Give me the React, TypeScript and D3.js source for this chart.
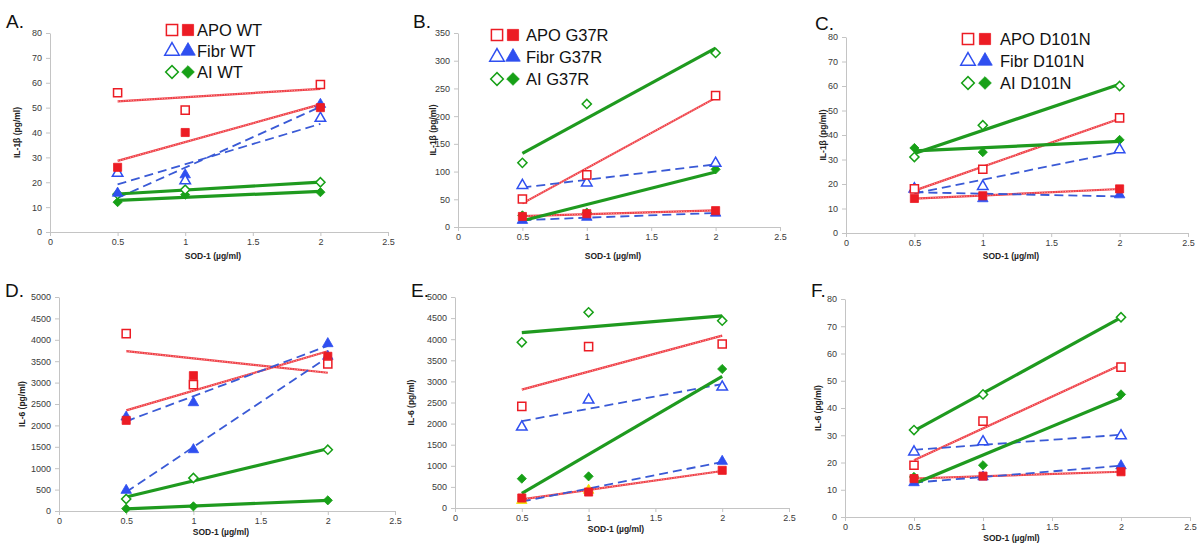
import { useEffect, useRef } from 'react'
import * as d3 from 'd3'

// SOD-1 doses on the x axis
const doses = [0.5, 1, 2]
const xTicks = [0, 0.5, 1, 1.5, 2, 2.5]
const panelLetters = ['A.', 'B.', 'C.', 'D.', 'E.', 'F.']
const variants = ['WT', 'G37R', 'D101N']
const groups = ['APO', 'Fibr', 'AI']
const yMaxes = [80, 350, 80, 5000, 5000, 80]
const ySteps = [10, 50, 10, 500, 500, 10]
const yTitles = ['IL-1β (pg/ml)', 'IL-1β (pg/ml)', 'IL-1β (pg/ml)', 'IL-6 (pg/ml)', 'IL-6 (pg/ml)', 'IL-6 (pg/ml)']
const xTitle = 'SOD-1 (µg/ml)'

// values per panel (A..F) at 0.5, 1 and 2 µg/ml
const apoOpen = [[56, 49, 59.3], [50.6, 94, 237], [18, 26, 47], [4143, 2952, 3435], [2409, 3823, 3886], [19, 35.2, 55]]
const apoFilled = [[26, 40, 50], [19, 24, 29.5], [14.1, 15.2, 18], [2118, 3162, 3614], [237, 379, 893], [14.1, 15, 16.6]]
const fibrOpen = [[23.6, 20.6, 45.7], [75, 79.5, 115], [18, 19, 34], [2196, 2531, 3910], [1919, 2559, 2867], [23.9, 27.6, 29.8]]
const fibrFilled = [[15.6, 23, 51.3], [12, 17.5, 25], [18, 14, 15.6], [483, 1433, 3614], [180, 420, 1106], [12.6, 14.7, 18.8]]
const aiOpen = [[15.2, 17, 20], [115.7, 222, 314], [31, 44, 60], [280, 771, 1433], [3926, 4637, 4439], [31.9, 45, 73.3]]
const aiFilled = [[12, 15, 16], [21, 26, 104], [34.7, 33, 38], [55, 109, 249], [695, 750, 3294], [14.7, 19, 45]]

const RED = '#ec1c24'
const BLUE = '#2f4ff0'
const BLUE_LINE = '#3a5ad6'
const GREEN = '#17a017'
const GREEN_LINE = '#1f9a1f'
const YELLOW = '#f2de00'

// plot boxes in page pixels
const boxes = [
  { left: 50, right: 388, top: 33, bottom: 232, yTitleX: 20, xTitleY: 259, labelX: 6, labelY: 28 },
  { left: 458, right: 780, top: 33, bottom: 227, yTitleX: 436, xTitleY: 259, labelX: 413, labelY: 28 },
  { left: 846, right: 1188, top: 37, bottom: 233, yTitleX: 826, xTitleY: 259, labelX: 815, labelY: 30 },
  { left: 59, right: 395, top: 297, bottom: 511, yTitleX: 25, xTitleY: 535, labelX: 5, labelY: 297 },
  { left: 455, right: 789, top: 297, bottom: 508, yTitleX: 414, xTitleY: 532, labelX: 411, labelY: 297 },
  { left: 845, right: 1190, top: 299, bottom: 517, yTitleX: 821, xTitleY: 541, labelX: 811, labelY: 297 },
]
const legends = [
  { openX: 172, filledX: 188, textX: 197, y: 30, gap: 21 },
  { openX: 497, filledX: 513, textX: 526, y: 35, gap: 22 },
  { openX: 968, filledX: 985, textX: 1000, y: 39, gap: 22 },
]

function fit(ys: number[]) {
  const mx = d3.mean(doses) as number
  const my = d3.mean(ys) as number
  let sxy = 0
  let sxx = 0
  doses.forEach((x, i) => {
    sxy += (x - mx) * (ys[i] - my)
    sxx += (x - mx) * (x - mx)
  })
  const b = sxy / sxx
  return doses.filter((d, i) => i === 0 || i === doses.length - 1).map(x => ({ x, y: my + b * (x - mx) }))
}

const shapes: Record<string, d3.SymbolType> = {
  APO: d3.symbolSquare,
  Fibr: d3.symbolTriangle,
  AI: d3.symbolSquare,
}
const sizes: Record<string, number> = { APO: 66, Fibr: 48, AI: 42 }
const colors: Record<string, string> = { APO: RED, Fibr: BLUE, AI: GREEN }

export default function App() {
  const ref = useRef<SVGSVGElement | null>(null)

  useEffect(() => {
    const svg = d3.select(ref.current)
    svg.selectAll('*').remove()
    svg.append('rect').attr('width', 1200).attr('height', 543).attr('fill', '#fff')

    const drawMarker = (g: any, group: string, open: boolean, cx: number, cy: number, scale = 1, color?: string) => {
      const c = color || colors[group]
      const path = d3.symbol().type(shapes[group]).size(sizes[group] * scale)()
      const rot = group === 'AI' ? 45 : 0
      g.append('path')
        .attr('d', path)
        .attr('transform', `translate(${cx},${cy}) rotate(${rot})`)
        .attr('fill', open ? '#fff' : c)
        .attr('stroke', c)
        .attr('stroke-width', open ? 1.5 : 0.8)
    }

    boxes.forEach((bx, p) => {
      const g = svg.append('g')
      const x = d3.scaleLinear().domain([0, 2.5]).range([bx.left, bx.right])
      const y = d3.scaleLinear().domain([0, yMaxes[p]]).range([bx.bottom, bx.top])
      const yTicks = d3.range(0, yMaxes[p] + 0.001, ySteps[p])

      const ya = g.append('g').attr('transform', `translate(${bx.left},0)`)
        .call(d3.axisLeft(y).tickValues(yTicks).tickSize(4).tickSizeOuter(0).tickPadding(4).tickFormat(d => String(d)))
      const xa = g.append('g').attr('transform', `translate(0,${bx.bottom})`)
        .call(d3.axisBottom(x).tickValues(xTicks).tickSize(4).tickSizeOuter(0).tickPadding(3).tickFormat(d => String(d)))
      ;[ya, xa].forEach(a => {
        a.select('.domain').attr('stroke', '#c4c4c4')
        a.selectAll('.tick line').attr('stroke', '#c4c4c4')
        a.selectAll('.tick text').attr('fill', '#3a3a3a').style('font-size', '9px').style('font-family', 'Liberation Sans, Arial, sans-serif')
      })

      // axis titles
      g.append('text')
        .attr('x', (bx.left + bx.right) / 2 - 6).attr('y', bx.xTitleY)
        .attr('text-anchor', 'middle')
        .style('font', 'bold 8.5px Liberation Sans, Arial, sans-serif').attr('fill', '#222')
        .text(xTitle)
      g.append('text')
        .attr('transform', `translate(${bx.yTitleX},${(bx.top + bx.bottom) / 2}) rotate(-90)`)
        .attr('text-anchor', 'middle')
        .style('font', 'bold 8.5px Liberation Sans, Arial, sans-serif').attr('fill', '#222')
        .text(yTitles[p])
      g.append('text')
        .attr('x', bx.labelX).attr('y', bx.labelY)
        .style('font', '19px Liberation Sans, Arial, sans-serif').attr('fill', '#111')
        .text(panelLetters[p])

      const series = [
        { group: 'APO', open: true, vals: apoOpen[p] },
        { group: 'APO', open: false, vals: apoFilled[p] },
        { group: 'Fibr', open: true, vals: fibrOpen[p] },
        { group: 'Fibr', open: false, vals: fibrFilled[p] },
        { group: 'AI', open: true, vals: aiOpen[p] },
        { group: 'AI', open: false, vals: aiFilled[p] },
      ]

      // trend lines
      const line = d3.line<{ x: number; y: number }>().x(d => x(d.x)).y(d => y(d.y))
      series.forEach(s => {
        const pts = fit(s.vals)
        if (s.group === 'APO') {
          g.append('path').attr('d', line(pts)).attr('stroke', RED).attr('stroke-width', 2.2).attr('fill', 'none').attr('opacity', 0.85)
          g.append('path').attr('d', line(pts)).attr('stroke', '#fff').attr('stroke-width', 0.7)
            .attr('stroke-dasharray', '1 1.6').attr('fill', 'none').attr('opacity', 0.8)
        } else if (s.group === 'Fibr') {
          g.append('path').attr('d', line(pts)).attr('stroke', BLUE_LINE).attr('stroke-width', 1.8)
            .attr('stroke-dasharray', '9 5').attr('fill', 'none')
        } else {
          g.append('path').attr('d', line(pts)).attr('stroke', GREEN_LINE).attr('stroke-width', 3.2).attr('fill', 'none')
        }
      })

      // markers (panel D draws every triangle solid, panel E has two yellow ones)
      series.slice().reverse().forEach(s => {
        s.vals.forEach((v, i) => {
          let open = s.open
          let color: string | undefined
          if (p === 3 && s.group === 'Fibr') open = false
          if (p === 4 && s.group === 'Fibr' && !s.open && i < 2) color = YELLOW
          drawMarker(g, s.group, open, x(doses[i]), y(v), 1, color)
        })
      })

      // legend
      if (p < 3) {
        const lg = legends[p]
        groups.forEach((grp, k) => {
          const cy = lg.y + k * lg.gap
          drawMarker(g, grp, true, lg.openX, cy, 1.9)
          drawMarker(g, grp, false, lg.filledX, cy, 1.9)
          g.append('text')
            .attr('x', lg.textX).attr('y', cy + 6)
            .style('font', '16.5px Liberation Sans, Arial, sans-serif').attr('fill', '#111')
            .text(`${grp} ${variants[p]}`)
        })
      }
    })
  }, [])

  return <svg ref={ref} width={1200} height={543} style={{ position: 'absolute', left: 0, top: 0 }} />
}
